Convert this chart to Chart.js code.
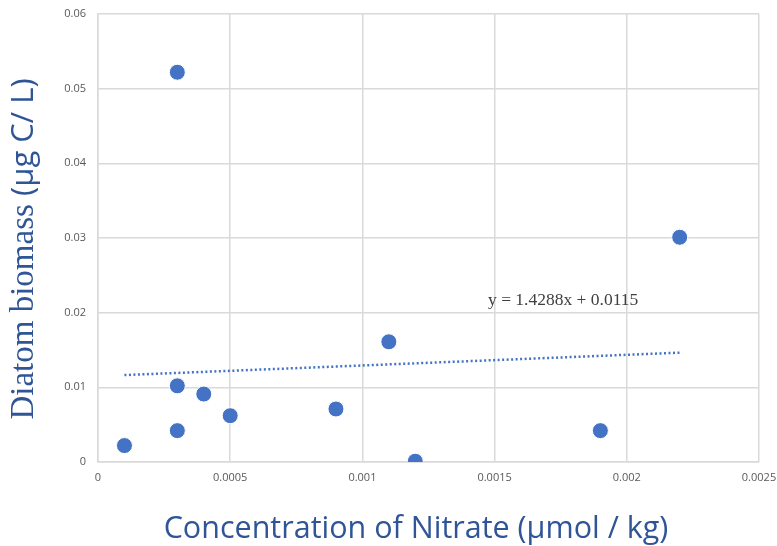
<!DOCTYPE html>
<html>
<head>
<meta charset="utf-8">
<script src="https://cdn.jsdelivr.net/npm/chart.js@4"></script>
<style>
  html, body { margin: 0; padding: 0; background: #fff; }
</style>
</head>
<body>
<canvas id="chart" width="777" height="546"></canvas>
<script>
// nitrate concentration (µmol / kg) vs diatom biomass (µg C / L)
const nitrate = [0.0001, 0.0003, 0.0003, 0.0003, 0.0004, 0.0005, 0.0009, 0.0011, 0.0012, 0.0019, 0.0022];
const biomass = [0.0022, 0.0522, 0.0102, 0.0042, 0.0091, 0.0062, 0.0071, 0.0161, 0.0001, 0.0042, 0.0301];

const trendSlope = 1.4288;
const trendIntercept = 0.0115;
const trendLabel = "y = 1.4288x + 0.0115";

const xTicks = [0, 0.0005, 0.001, 0.0015, 0.002, 0.0025];
const xTickLabels = ["0", "0.0005", "0.001", "0.0015", "0.002", "0.0025"];
const yTicks = [0, 0.01, 0.02, 0.03, 0.04, 0.05, 0.06];
const yTickLabels = ["0", "0.01", "0.02", "0.03", "0.04", "0.05", "0.06"];

const xTitle = "Concentration of Nitrate (µmol / kg)";
const yTitleSerif = "Diatom biomass ";
const yTitleSans = "(µg C/ L)";

const titleBlue = "#2F5597";
const gridGray = "#d9d9d9";

// trendline over the data range
const xMin = Math.min(...nitrate);
const xMax = Math.max(...nitrate);
const trendPoints = [xMin, xMax].map(x => ({ x: x, y: trendSlope * x + trendIntercept }));

const labelFor = (ticks, labels) => v => {
  const i = ticks.findIndex(t => Math.abs(t - v) < 1e-9);
  return i >= 0 ? labels[i] : "";
};

// axis titles and trend equation drawn by hand (mixed fonts)
const extraText = {
  id: "extraText",
  afterDraw(chart) {
    const ctx = chart.ctx;
    ctx.save();

    // equation label
    ctx.fillStyle = "#404040";
    ctx.font = "17.5px 'Liberation Serif'";
    ctx.textAlign = "left";
    ctx.textBaseline = "middle";
    ctx.fillText(trendLabel, 488, 300);

    // x title
    ctx.fillStyle = titleBlue;
    ctx.font = "30.5px 'Open Sans'";
    ctx.textAlign = "center";
    ctx.textBaseline = "alphabetic";
    ctx.fillText(xTitle, 416, 538);

    // y title, rotated
    ctx.translate(33, 249);
    ctx.rotate(-Math.PI / 2);
    const serifFont = "33px 'Liberation Serif'";
    const sansFont = "31px 'Open Sans'";
    ctx.font = serifFont;
    const w1 = ctx.measureText(yTitleSerif).width;
    ctx.font = sansFont;
    const w2 = ctx.measureText(yTitleSans).width;
    let start = -(w1 + w2) / 2;
    ctx.textAlign = "left";
    ctx.font = serifFont;
    ctx.fillText(yTitleSerif, start, 0);
    ctx.font = sansFont;
    ctx.fillText(yTitleSans, start + w1, 0);
    ctx.restore();
  }
};

new Chart(document.getElementById("chart").getContext("2d"), {
  type: "scatter",
  data: {
    datasets: [
      {
        label: "Diatom biomass",
        data: nitrate.map((x, i) => ({ x: x, y: biomass[i] })),
        backgroundColor: "#4472C4",
        borderColor: "#ffffff",
        borderWidth: 1,
        pointRadius: 8,
        pointHoverRadius: 8,
      },
      {
        label: "Linear trend",
        type: "line",
        data: trendPoints,
        borderColor: "#4472C4",
        borderWidth: 2.5,
        borderDash: [2, 2.5],
        pointRadius: 0,
        fill: false,
      },
    ],
  },
  options: {
    responsive: false,
    animation: false,
    events: [],
    layout: { padding: { top: 14, right: 18, left: 0, bottom: 0 } },
    plugins: {
      legend: { display: false },
      tooltip: { enabled: false },
    },
    scales: {
      x: {
        type: "linear",
        min: 0,
        max: 0.0025,
        afterBuildTicks: s => { s.ticks = xTicks.map(v => ({ value: v })); },
        afterFit: s => { s.height = 84; s.paddingLeft = 0; s.paddingRight = 0; },
        grid: { color: gridGray, lineWidth: 1.5, drawTicks: false },
        border: { color: gridGray, width: 1.5 },
        ticks: {
          padding: 9,
          color: "#595959",
          font: { family: "'Open Sans'", size: 11 },
          maxRotation: 0,
          callback: labelFor(xTicks, xTickLabels),
        },
      },
      y: {
        type: "linear",
        min: 0,
        max: 0.06,
        afterBuildTicks: s => { s.ticks = yTicks.map(v => ({ value: v })); },
        afterFit: s => { s.width = 98; s.paddingTop = 0; s.paddingBottom = 0; },
        grid: { color: gridGray, lineWidth: 1.5, drawTicks: false },
        border: { color: gridGray, width: 1.5 },
        ticks: {
          padding: 12,
          color: "#595959",
          font: { family: "'Open Sans'", size: 11 },
          callback: labelFor(yTicks, yTickLabels),
        },
      },
    },
  },
  plugins: [extraText],
});
</script>
</body>
</html>
